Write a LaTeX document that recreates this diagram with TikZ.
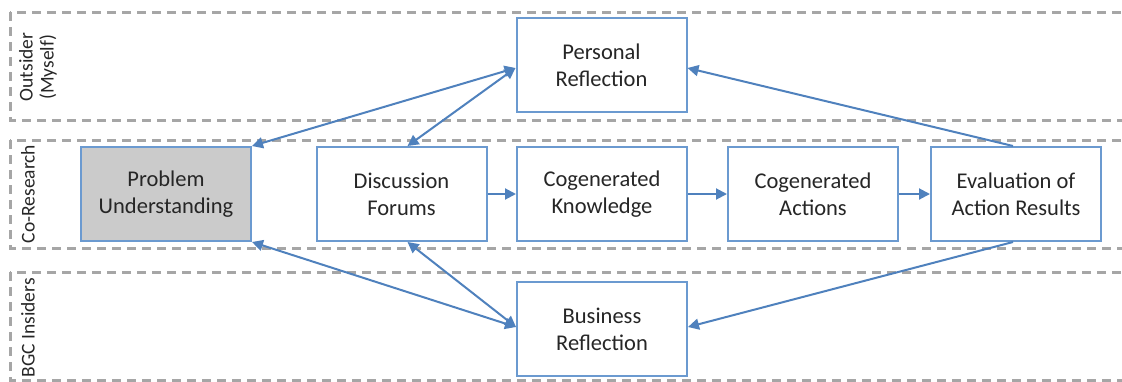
\documentclass[tikz,border=0pt]{standalone}
\usepackage{fontspec}
\setmainfont{Carlito}
\usetikzlibrary{arrows.meta}
\definecolor{flowblue}{HTML}{4F81BD}
\definecolor{boxblue}{HTML}{6B9AD0}
\definecolor{lanegray}{HTML}{A6A6A6}
\definecolor{textgray}{HTML}{262626}
\definecolor{probfill}{HTML}{CBCBCB}
\begin{document}
\begin{tikzpicture}[x=1pt,y=-1pt,
  lane/.style={draw=lanegray, line width=3pt, dash pattern=on 9pt off 6pt},
  lanelabel/.style={rotate=90, text=textgray, font=\fontsize{19.5}{21}\selectfont, align=center, inner sep=0pt},
  stepbox/.style={draw=boxblue, line width=2pt, fill=white, minimum width=170pt, minimum height=94pt,
    align=center, text=textgray, font=\fontsize{22.5}{27}\selectfont, inner sep=0pt},
  tip/.tip={Triangle[length=11pt,width=11pt]},
  flow/.style={draw=flowblue, line width=2pt, -tip},
  twoway/.style={draw=flowblue, line width=2pt, tip-tip}
]
\useasboundingbox (0,0) rectangle (1122,381);
\clip (0,0) rectangle (1122,381);

% swim lanes
\draw[lane] (10,12) rectangle (1140,120);
\draw[lane] (10,140) rectangle (1140,248);
\draw[lane] (10,272) rectangle (1140,380);

\node[lanelabel] (lOut) at (38,67) {Outsider\\(Myself)};
\node[lanelabel] (lCo) at (28,194) {Co-Research};
\node[lanelabel, anchor=east] (lBGC) at (28,278) {BGC Insiders};

% process steps
\node[stepbox] (PR) at (601.5,65) {Personal\\Reflection};
\node[stepbox, fill=probfill] (PU) at (166,194) {Problem\\Understanding};
\node[stepbox] (DF) at (401.5,194) {Discussion\\Forums};
\node[stepbox] (CK) at (602,194) {Cogenerated\\Knowledge};
\node[stepbox] (CA) at (813,194) {Cogenerated\\Actions};
\node[stepbox] (EV) at (1016,194) {Evaluation of\\Action Results};
\node[stepbox] (BR) at (602,329) {Business\\Reflection};

% main flow
\draw[flow] (DF) -- (CK);
\draw[flow] (CK) -- (CA);
\draw[flow] (CA) -- (EV);

% reflection loops
\draw[twoway] (PU.north east) -- ([yshift=-3pt]PR.west);
\draw[twoway] ([xshift=6pt]DF.north) -- ([yshift=-3pt]PR.west);
\draw[flow] ([xshift=-3pt]EV.north) -- ([yshift=-3pt]PR.east);
\draw[twoway] (PU.south east) -- ([yshift=2pt]BR.west);
\draw[twoway] ([xshift=6pt]DF.south) -- ([yshift=2pt]BR.west);
\draw[flow] ([xshift=-3pt]EV.south) -- ([yshift=2pt]BR.east);
\end{tikzpicture}
\end{document}
